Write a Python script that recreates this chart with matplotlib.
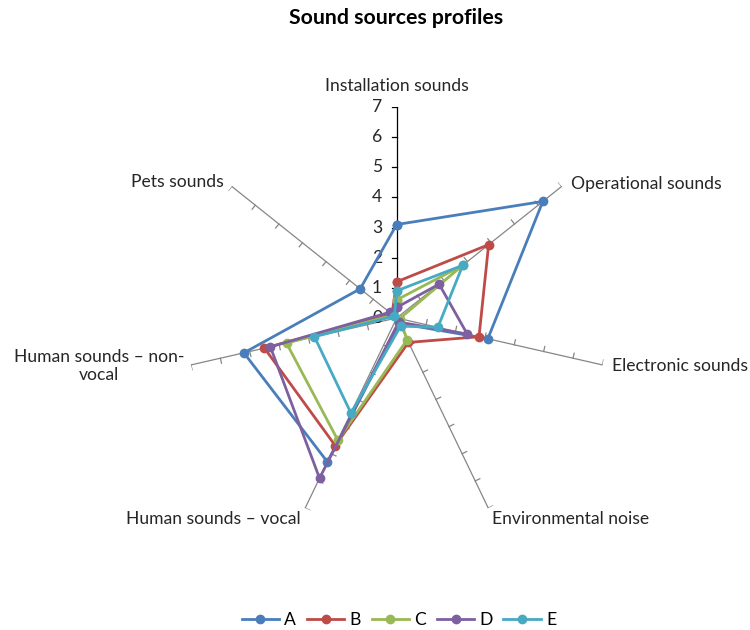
import numpy as np
import matplotlib
matplotlib.use("Agg")
import matplotlib.pyplot as plt
from matplotlib.lines import Line2D

plt.rcParams['font.family'] = ['Lato', 'DejaVu Sans']

categories = ["Installation sounds", "Operational sounds", "Electronic sounds",
              "Environmental noise", "Human sounds \u2013 vocal",
              "Human sounds \u2013 non-\nvocal", "Pets sounds"]
series_names = ["A", "B", "C", "D", "E"]
A = [3.1, 6.2, 3.1, 0.2, 5.3, 5.2, 1.55]
B = [1.2, 3.9, 2.8, 0.9, 4.7, 4.5, 0.2]
C = [0.6, 2.8, 0.1, 0.8, 4.5, 3.75, 0.15]
D = [0.35, 1.8, 2.4, 0.15, 5.9, 4.3, 0.3]
E = [0.9, 2.8, 1.4, 0.3, 3.5, 2.8, 0.1]
value_ticks = [0, 1, 2, 3, 4, 5, 6, 7]

colors = ["#4A7EBB", "#BE4B48", "#98B954", "#7D60A0", "#46AAC5"]
text_color = "#262626"
fs = 12.6

fig = plt.figure(figsize=(7.5, 6.3), dpi=100)
ax = fig.add_axes([0.2476, 0.1603, 0.5627, 0.670], projection='polar')
ax.set_theta_zero_location('N')
ax.set_theta_direction(-1)
rmax = value_ticks[-1]
ax.set_ylim(0, rmax)
ax.grid(False)
ax.spines['polar'].set_visible(False)
ax.set_xticks([])
ax.set_yticks([])
ax.patch.set_alpha(0)

n = len(categories)
angles = np.arange(n) * 2 * np.pi / n

# spokes with small tick marks on the counter-clockwise side
tick_len = 0.17
for i, th in enumerate(angles):
    col = "black" if i == 0 else "#868686"
    ax.plot([th, th], [0, rmax], color=col, lw=0.9, zorder=1)
    for r in value_ticks[1:]:
        ax.plot([th, th - np.arctan(tick_len / r)], [r, np.hypot(r, tick_len)],
                color=col, lw=0.9, zorder=1)

# value labels along the vertical spoke
for v in value_ticks:
    ax.annotate(str(v), xy=(0, v), xytext=(-10.5, 0), textcoords='offset points',
                ha='right', va='center', fontsize=fs, color=text_color)

# category labels
label_pos = [
    ((0, 9), 'center', 'bottom'),
    ((7, 2), 'left', 'center'),
    ((7, -1), 'left', 'center'),
    ((3, -2), 'left', 'top'),
    ((-3, -2), 'right', 'top'),
    ((-5, -1), 'right', 'center'),
    ((-6, 3), 'right', 'center'),
]
for th, lab, (off, ha, va) in zip(angles, categories, label_pos):
    ax.annotate(lab, xy=(th, rmax), xytext=off, textcoords='offset points',
                ha=ha, va=va, fontsize=fs, color=text_color,
                multialignment='center', linespacing=1.15,
                annotation_clip=False)

closed_angles = np.append(angles, angles[0])
for name, vals, c in zip(series_names, [A, B, C, D, E], colors):
    ax.plot(closed_angles, vals + vals[:1], color=c, lw=2.0, marker='o',
            markersize=6, zorder=3, clip_on=False)

fig.text(0.528, 0.971, "Sound sources profiles", ha='center', va='center',
         fontsize=15.3, fontweight='bold', color='black')

handles = [Line2D([], [], color=c, lw=2.0, marker='o', markersize=6) for c in colors]
fig.legend(handles, series_names, loc='center', bbox_to_anchor=(0.532, 0.016),
           ncol=5, frameon=False, fontsize=fs, handlelength=2.15,
           columnspacing=0.6, handletextpad=0.3)

fig.savefig("out.png", dpi=100, facecolor='white')
